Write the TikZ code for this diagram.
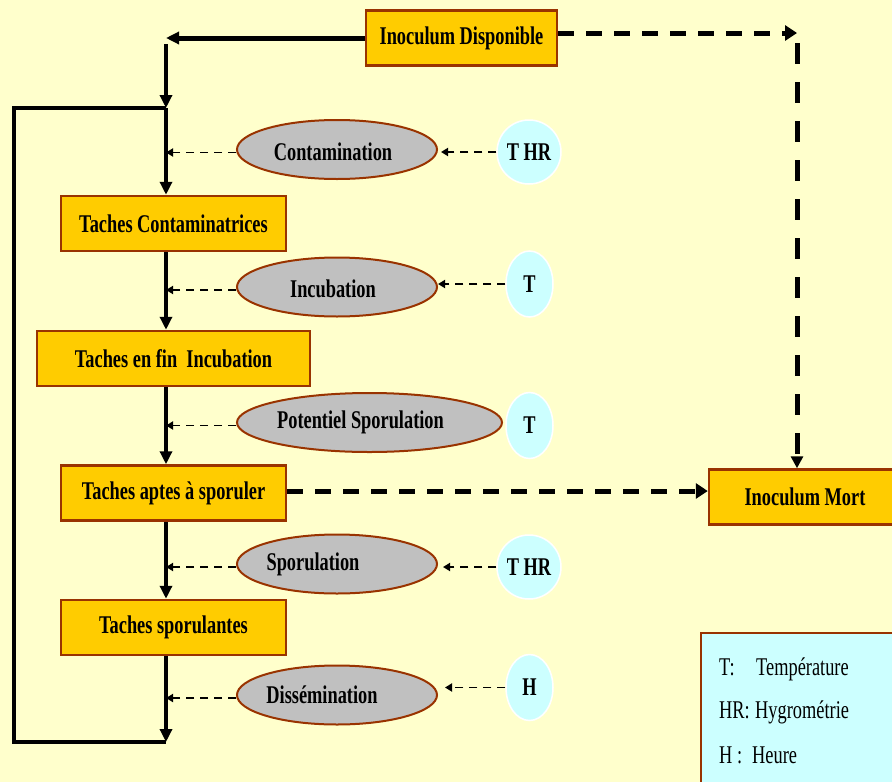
\documentclass[tikz,border=0pt]{standalone}
\usepackage{fontspec}
\setmainfont{Liberation Serif}[FakeStretch=0.72]
\usetikzlibrary{arrows.meta,shapes.geometric}

\definecolor{fond}{HTML}{FFFFCC}
\definecolor{boite}{HTML}{FFCC00}
\definecolor{brun}{HTML}{993300}
\definecolor{gris}{HTML}{C0C0C0}
\definecolor{ciel}{HTML}{CCFFFF}

\newcommand{\police}{\fontsize{25.5}{30}\selectfont}

\tikzset{
  etat/.style={draw=brun, line width=2.5pt, fill=boite, font=\police\bfseries,
    minimum height=55pt, inner sep=0pt},
  processus/.style={ellipse, draw=brun, line width=2pt, fill=gris,
    minimum width=200pt, minimum height=59pt, inner sep=0pt},
  titre/.style={font=\police\bfseries},
  facteur/.style={ellipse, draw=white, line width=1.5pt, fill=ciel,
    font=\police\bfseries, inner sep=0pt},
  flux/.style={line width=3.5pt, -{Triangle[length=13pt,width=12pt]}},
  effet/.style={line width=1.8pt, dash pattern=on 8pt off 6pt,
    -{Triangle[length=7pt,width=8pt]}},
  perteh/.style={line width=5pt, dash pattern=on 16pt off 12pt,
    -{Triangle[length=12pt,width=15pt]}},
  pertev/.style={line width=5pt, dash pattern=on 21pt off 18pt,
    -{Triangle[length=12pt,width=12pt]}},
  legende/.style={anchor=base west, inner sep=0pt, font=\police}
}

\begin{document}
\begin{tikzpicture}[x=1pt,y=-1pt]
\clip (0,0) rectangle (892,782);
\fill[fond] (0,0) rectangle (892,782);

% etats des taches
\node[etat, minimum width=191pt] (dispo) at (461.5,38) {Inoculum Disponible};
\node[etat, minimum width=225pt] (contam) at (173.5,223.5) {Taches Contaminatrices};
\node[etat, minimum width=273pt] (finincub) at (173.5,358.5) {Taches en fin\ \ Incubation};
\node[etat, minimum width=225pt] (aptes) at (173.5,493) {Taches aptes à sporuler};
\node[etat, minimum width=225pt] (sporul) at (173.5,627.5) {Taches sporulantes};
\node[etat, minimum width=192pt] (mort) at (805,497) {Inoculum Mort};

% processus
\node[processus, label={[titre,xshift=-4pt,yshift=-2pt]center:Contamination}] (contamination) at (337,149.5) {};
\node[processus, label={[titre,xshift=-4pt,yshift=-2pt]center:Incubation}] (incubation) at (337,287) {};
\node[processus, minimum width=265pt, label={[titre,xshift=-9pt]center:Potentiel Sporulation}] (potentiel) at (369.5,422.5) {};
\node[processus, label={[titre,xshift=-24pt]center:Sporulation}] (sporulation) at (337,564) {};
\node[processus, label={[titre,xshift=-15pt]center:Dissémination}] (dissemination) at (337,695) {};

% facteurs climatiques
\node[facteur, minimum width=64pt, minimum height=64pt] (fcontam) at (529,152) {T HR};
\node[facteur, minimum width=47pt, minimum height=66pt] (fincub) at (529.5,284) {T};
\node[facteur, minimum width=47pt, minimum height=66pt] (fpot) at (529.5,425.5) {T};
\node[facteur, minimum width=64pt, minimum height=64pt] (fspor) at (529,567) {T HR};
\node[facteur, minimum width=47pt, minimum height=66pt] (fdiss) at (529.5,687.5) {H};

% cycle
\coordinate (coin) at (166,38);
\coordinate (depart) at (166,44);
\coordinate (jonction) at (166,108);
\coordinate (retourhaut) at (14,108);
\coordinate (retourbas) at (14,742);
\coordinate (fin) at (166,742);
\draw[flux, line width=5pt] (dispo.west) -- (coin);
\draw[flux] (depart) -- (jonction);
\draw[line width=3.5pt] (jonction) -- (retourhaut) -- (retourbas) -- (fin);
\draw[flux] (jonction) -- (jonction |- contam.north);
\draw[flux] (contam.south -| jonction) -- (finincub.north -| jonction);
\draw[flux] (finincub.south -| jonction) -- (aptes.north -| jonction);
\draw[flux] (aptes.south -| jonction) -- (sporul.north -| jonction);
\draw[flux] (sporul.south -| jonction) -- (fin);

% effets
\foreach \p in {contamination,incubation,potentiel,sporulation,dissemination}
  \draw[effet] ([yshift=-3pt]\p.west) -- ([yshift=-3pt]\p.west -| jonction);
\draw[effet, shorten >=3pt] (fcontam.west) -- (fcontam.west -| contamination.east);
\draw[effet] (fincub.west) -- (fincub.west -| incubation.east);
\draw[effet, shorten >=5pt] (fspor.west) -- (fspor.west -| sporulation.east);
\draw[effet, shorten >=7pt] (fdiss.west) -- (fdiss.west -| dissemination.east);

% pertes
\coordinate (angle) at (797,33);
\coordinate (descente) at (797,43);
\draw[perteh] ([yshift=5pt]dispo.east) -- (angle);
\draw[pertev] (descente) -- (mort.north -| descente);
\draw[perteh] ([yshift=2pt]aptes.east) -- ([yshift=2pt]aptes.east -| mort.west);

% legende
\draw[brun, line width=2.5pt, fill=ciel] (701,633) rectangle (900,790);
\node[legende] (lt) at (719,675) {T:};
\node[legende] (ltt) at (756,675) {Température};
\node[legende] (lhr) at (719,718) {HR:};
\node[legende] (lhrt) at (755,718) {Hygrométrie};
\node[legende] (lh) at (719,763) {H :};
\node[legende] (lht) at (752,763) {Heure};
\end{tikzpicture}
\end{document}
